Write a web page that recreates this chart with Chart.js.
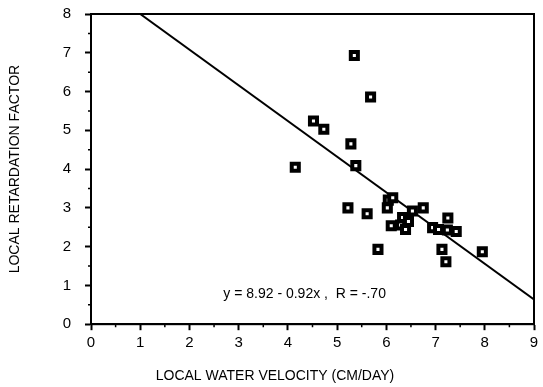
<!DOCTYPE html>
<html lang="en">
<head>
    <meta charset="UTF-8">
    <title>Local Retardation Factor vs Water Velocity</title>
    <style>
        html, body {
            margin: 0;
            padding: 0;
            background: #ffffff;
        }
        .chart-box {
            position: relative;
            width: 543px;
            height: 387px;
        }
    </style>
</head>
<body>
    <div class="chart-box">
        <canvas id="scatterChart"></canvas>
    </div>

    <script src="https://cdn.jsdelivr.net/npm/chart.js@4.4.0/dist/chart.umd.min.js"></script>
    <script>
        // Data
        var velocity = [4.15, 4.52, 4.73, 5.35, 5.28, 5.38, 5.22, 5.68, 5.61, 5.83,
                        6.02, 6.04, 6.13, 6.10, 6.33, 6.29, 6.39, 6.45, 6.53, 6.75,
                        6.94, 7.06, 7.24, 7.25, 7.42, 7.13, 7.21, 7.95];
        var retardation = [4.05, 5.24, 5.03, 6.93, 4.65, 4.09, 3.00, 5.86, 2.85, 1.93,
                           3.00, 3.20, 3.26, 2.54, 2.75, 2.56, 2.44, 2.65, 2.92, 3.00,
                           2.49, 2.44, 2.43, 2.74, 2.39, 1.93, 1.61, 1.87];
        var fitX = [1, 9];
        var fitY = [8.0, 0.64];
        var xTicks = [0, 1, 2, 3, 4, 5, 6, 7, 8, 9];
        var yTicks = [0, 1, 2, 3, 4, 5, 6, 7, 8];
        var fitLabel = 'y = 8.92 - 0.92x ,  R = -.70';
        var fitLabelAt = [4.34, 0.77];

        var fontFamily = '"Liberation Sans", Arial, Helvetica, sans-serif';

        var scatterPoints = velocity.map(function (v, i) {
            return { x: v, y: retardation[i] };
        });
        var fitPoints = fitX.map(function (v, i) {
            return { x: v, y: fitY[i] };
        });

        // frame, minor ticks and the equation text
        var framePlugin = {
            id: 'frame',
            afterDraw: function (chart) {
                var ctx = chart.ctx;
                var area = chart.chartArea;
                var xs = chart.scales.x;
                var ys = chart.scales.y;
                ctx.save();
                ctx.strokeStyle = '#000';
                ctx.lineWidth = 2;
                ctx.strokeRect(area.left, area.top, area.right - area.left, area.bottom - area.top);

                ctx.lineWidth = 1.5;
                ctx.beginPath();
                for (var i = 0; i < xTicks.length - 1; i++) {
                    var px = xs.getPixelForValue(xTicks[i] + 0.5);
                    ctx.moveTo(px, area.bottom);
                    ctx.lineTo(px, area.bottom + 3);
                }
                for (var j = 0; j < yTicks.length - 1; j++) {
                    var py = ys.getPixelForValue(yTicks[j] + 0.5);
                    ctx.moveTo(area.left, py);
                    ctx.lineTo(area.left - 3, py);
                }
                ctx.stroke();

                ctx.fillStyle = '#000';
                ctx.font = '14px ' + fontFamily;
                ctx.textAlign = 'center';
                ctx.textBaseline = 'middle';
                ctx.fillText(fitLabel, xs.getPixelForValue(fitLabelAt[0]), ys.getPixelForValue(fitLabelAt[1]));
                ctx.restore();
            }
        };

        var ctx1 = document.getElementById('scatterChart').getContext('2d');
        var chart = new Chart(ctx1, {
            type: 'scatter',
            data: {
                datasets: [{
                    label: 'fit',
                    type: 'line',
                    data: fitPoints,
                    borderColor: '#000',
                    borderWidth: 2,
                    pointRadius: 0,
                    fill: false,
                    order: 2
                }, {
                    label: 'points',
                    data: scatterPoints,
                    pointStyle: 'rect',
                    pointRadius: 5,
                    pointBorderWidth: 4,
                    borderColor: '#000',
                    backgroundColor: '#fff',
                    order: 1
                }]
            },
            options: {
                responsive: true,
                maintainAspectRatio: false,
                animation: false,
                events: [],
                layout: {
                    padding: { top: 14, right: 0, left: 7, bottom: 2 }
                },
                plugins: {
                    legend: { display: false },
                    tooltip: { enabled: false },
                    title: {
                        display: true,
                        position: 'bottom',
                        text: 'LOCAL WATER VELOCITY (CM/DAY)',
                        color: '#000',
                        font: { family: fontFamily, size: 14, weight: 'normal' },
                        padding: { top: 0, bottom: 0 }
                    }
                },
                scales: {
                    x: {
                        type: 'linear',
                        min: 0,
                        max: 9,
                        afterBuildTicks: function (scale) {
                            scale.ticks = xTicks.map(function (v) { return { value: v }; });
                        },
                        afterFit: function (scale) {
                            scale.height = 44;
                            scale.paddingLeft = 0;
                            scale.paddingRight = 0;
                        },
                        border: { display: true, color: '#000', width: 2 },
                        grid: {
                            drawOnChartArea: false,
                            drawTicks: true,
                            tickLength: 6,
                            tickWidth: 2,
                            tickColor: '#000'
                        },
                        ticks: {
                            color: '#000',
                            padding: 4,
                            maxRotation: 0,
                            font: { family: fontFamily, size: 15 }
                        }
                    },
                    y: {
                        type: 'linear',
                        min: 0,
                        max: 8,
                        afterBuildTicks: function (scale) {
                            scale.ticks = yTicks.map(function (v) { return { value: v }; });
                        },
                        afterFit: function (scale) {
                            scale.width = 84;
                            scale.paddingTop = 0;
                            scale.paddingBottom = 0;
                        },
                        border: { display: true, color: '#000', width: 2 },
                        grid: {
                            drawOnChartArea: false,
                            drawTicks: true,
                            tickLength: 6,
                            tickWidth: 2,
                            tickColor: '#000'
                        },
                        title: {
                            display: true,
                            text: 'LOCAL RETARDATION FACTOR',
                            color: '#000',
                            font: { family: fontFamily, size: 14, weight: 'normal' },
                            padding: { top: 0, bottom: 0 }
                        },
                        ticks: {
                            color: '#000',
                            padding: 14,
                            font: { family: fontFamily, size: 15 }
                        }
                    }
                }
            },
            plugins: [framePlugin]
        });
    </script>
</body>
</html>
